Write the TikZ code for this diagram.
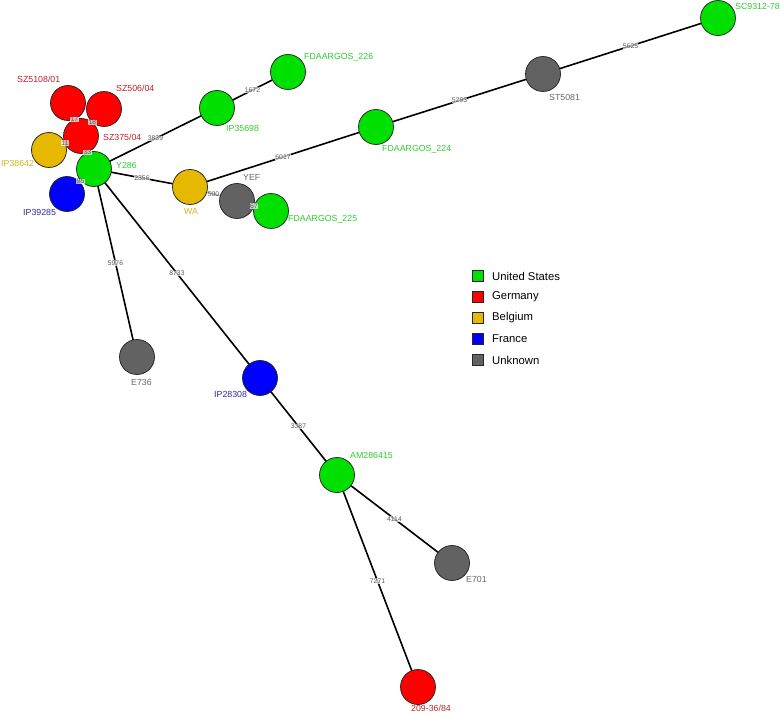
\documentclass[tikz,border=0pt]{standalone}
\usepackage{fontspec}
\setmainfont{Liberation Sans}
\usetikzlibrary{backgrounds}
\definecolor{cUS}{RGB}{0,224,0}
\definecolor{cDE}{RGB}{255,0,0}
\definecolor{cBE}{RGB}{230,184,0}
\definecolor{cFR}{RGB}{0,0,255}
\definecolor{cUN}{RGB}{98,98,98}
\definecolor{tUS}{RGB}{50,200,50}
\definecolor{tDE}{RGB}{185,35,40}
\definecolor{tBE}{RGB}{215,178,30}
\definecolor{tFR}{RGB}{40,40,160}
\definecolor{tUN}{RGB}{105,105,105}
\definecolor{tEdge}{RGB}{90,90,90}
\begin{document}
\begin{tikzpicture}[x=1pt,y=-1pt,
  isolate/.style={circle, draw=black!85, line width=0.75pt, minimum size=35pt, inner sep=0pt},
  us/.style={isolate, fill=cUS},
  de/.style={isolate, fill=cDE},
  be/.style={isolate, fill=cBE},
  fr/.style={isolate, fill=cFR},
  un/.style={isolate, fill=cUN},
  nlabel/.style={anchor=west, inner sep=0pt, font=\fontsize{8.8}{10}\selectfont},
  elabel/.style={inner sep=0.4pt, font=\fontsize{6.8}{7.5}\selectfont, text=tEdge, fill=white, fill opacity=0.7, text opacity=1},
  link/.style={line width=1.6pt, black},
  legsq/.style={draw=black!85, line width=0.6pt, minimum size=11.5pt, inner sep=0pt},
  legtext/.style={anchor=west, inner sep=0pt, font=\fontsize{11.3}{13}\selectfont}
]
\useasboundingbox (0,0) rectangle (780,714);

% isolates
\node[de] (SZ5108) at (68,103) {};
\node[de] (SZ506) at (104,109) {};
\node[be] (IP38642) at (49,150) {};
\node[de] (SZ375) at (81,136) {};
\node[fr] (IP39285) at (67,194) {};
\node[us] (Y286) at (94,169) {};
\node[be] (WA) at (190,187) {};
\node[us] (IP35698) at (217,108) {};
\node[us] (FDA226) at (288,72) {};
\node[un] (YEF) at (237,201) {};
\node[us] (FDA225) at (271,211) {};
\node[us] (FDA224) at (376,127) {};
\node[un] (ST5081) at (543,74) {};
\node[us] (SC9312) at (718,18) {};
\node[un] (E736) at (137,357) {};
\node[fr] (IP28308) at (260,378) {};
\node[us] (AM286415) at (337,475) {};
\node[un] (E701) at (452,563) {};
\node[de] (N20936) at (418,687) {};

% connectors (behind the isolates) and their weights (on top)
\foreach \a/\b/\w in {SZ5108/SZ375/17, SZ506/SZ375/18, IP38642/SZ375/11, SZ375/Y286/33,
  Y286/IP39285/95, Y286/IP35698/3839, IP35698/FDA226/1672, Y286/WA/2356,
  WA/FDA224/6017, FDA224/ST5081/5293, ST5081/SC9312/5625, WA/YEF/500,
  YEF/FDA225/67, Y286/E736/5976, Y286/IP28308/8733, IP28308/AM286415/3387,
  AM286415/E701/4114, AM286415/N20936/7271} {
  \begin{pgfonlayer}{background}
    \draw[link] (\a.center) -- (\b.center);
  \end{pgfonlayer}
  \path (\a.center) -- (\b.center) node[elabel, midway] {\w};
}

% isolate names
\node[nlabel, text=tDE] (lSZ5108) at (17,79) {SZ5108/01};
\node[nlabel, text=tDE] (lSZ506) at (116,88) {SZ506/04};
\node[nlabel, text=tDE] (lSZ375) at (103,137) {SZ375/04};
\node[nlabel, text=tBE] (lIP38642) at (1,163) {IP38642};
\node[nlabel, text=tUS] (lY286) at (116,165) {Y286};
\node[nlabel, text=tFR] (lIP39285) at (23,212) {IP39285};
\node[nlabel, text=tBE] (lWA) at (184,211) {WA};
\node[nlabel, text=tUS] (lIP35698) at (226,128) {IP35698};
\node[nlabel, text=tUS] (lFDA226) at (304,57) {FDAARGOS\_226};
\node[nlabel, text=tUN] (lYEF) at (243,177) {YEF};
\node[nlabel, text=tUS] (lFDA225) at (288,219) {FDAARGOS\_225};
\node[nlabel, text=tUS] (lFDA224) at (382,149) {FDAARGOS\_224};
\node[nlabel, text=tUN] (lST5081) at (549,97) {ST5081};
\node[nlabel, text=tUS] (lSC9312) at (735,6) {SC9312-78};
\node[nlabel, text=tUN] (lE736) at (131,382) {E736};
\node[nlabel, text=tFR] (lIP28308) at (214,394) {IP28308};
\node[nlabel, text=tUS] (lAM286415) at (350,455) {AM286415};
\node[nlabel, text=tUN] (lE701) at (466,579) {E701};
\node[nlabel, text=tDE] (l20936) at (411,708) {209-36/84};

% legend
\node[legsq, fill=cUS] (sq1) at (478,276) {};
\node[legsq, fill=cDE] (sq2) at (478,297) {};
\node[legsq, fill=cBE] (sq3) at (478,318) {};
\node[legsq, fill=cFR] (sq4) at (478,339) {};
\node[legsq, fill=cUN] (sq5) at (478,360) {};
\node[legtext] (lg1) at (492,276) {United States};
\node[legtext] (lg2) at (492,297) {Germany};
\node[legtext] (lg3) at (492,318) {Belgium};
\node[legtext] (lg4) at (492,339) {France};
\node[legtext] (lg5) at (492,360) {Unknown};
\end{tikzpicture}
\end{document}
